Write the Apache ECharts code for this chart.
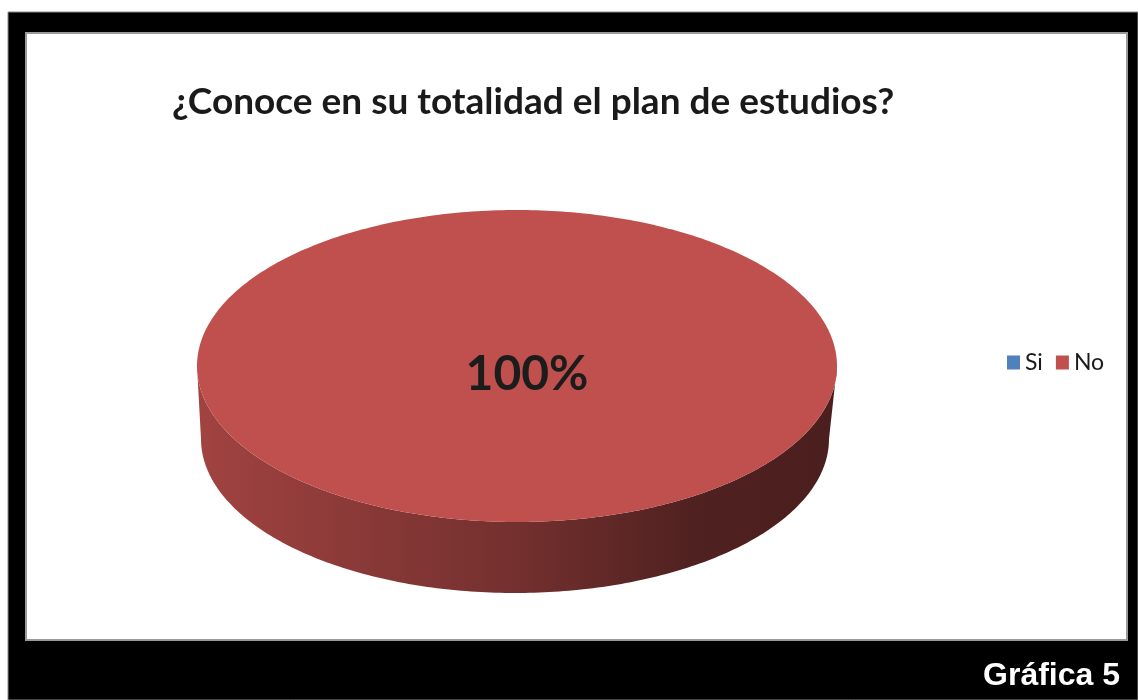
<!DOCTYPE html>
<html>
<head>
<meta charset="utf-8">
<title>¿Conoce en su totalidad el plan de estudios?</title>
<script src="https://cdn.jsdelivr.net/npm/echarts@6/dist/echarts.min.js"></script>
<style>
  html, body { margin: 0; padding: 0; background: #ffffff; }
  #chart { width: 1138px; height: 700px; }
</style>
</head>
<body>
<div id="chart"></div>
<script>
// Survey answers (percent of respondents)
const categories = ['Si', 'No'];
const values = [0, 100];
const sliceColors = ['#4F81BD', '#C0504D'];

const titleText = '¿Conoce en su totalidad el plan de estudios?';
const footerText = 'Gráfica 5';

// Geometry of the 3D pie (top face and bottom rim ellipses)
const TOP = { cx: 517, cy: 366, rx: 320, ry: 156 };
const BOTTOM = { cx: 515, cy: 439, rx: 314, ry: 154 };
const LABEL_OFFSET = [10, 9];

const total = values.reduce((a, b) => a + b, 0);

function ellipsePoint(e, t) {
  return [e.cx + e.rx * Math.cos(t), e.cy + e.ry * Math.sin(t)];
}

function arcPoints(e, t0, t1, steps) {
  const pts = [];
  for (let i = 0; i <= steps; i++) {
    pts.push(ellipsePoint(e, t0 + (t1 - t0) * i / steps));
  }
  return pts;
}

// Darken a hex colour by a factor (0..1)
function shade(hex, f) {
  const n = parseInt(hex.slice(1), 16);
  const r = Math.round(((n >> 16) & 255) * f);
  const g = Math.round(((n >> 8) & 255) * f);
  const b = Math.round((n & 255) * f);
  return 'rgb(' + r + ',' + g + ',' + b + ')';
}

function makeRenderItem(idx) {
  return function (params, api) {
    const v = api.value(0);
    const children = [];
    if (!(v > 0) || total <= 0) return { type: 'group', children: children };
    let before = 0;
    for (let i = 0; i < idx; i++) before += values[i];
    // Slices start at 12 o'clock and run clockwise
    const t0 = -Math.PI / 2 + 2 * Math.PI * before / total;
    const t1 = t0 + 2 * Math.PI * v / total;
    const full = v / total >= 0.9999;
    const base = sliceColors[idx];

    // Front rim: the part of the slice between angles 0 and PI (facing the viewer)
    const ranges = [];
    for (let k = -1; k <= 1; k++) {
      const a = Math.max(t0, k * 2 * Math.PI);
      const b = Math.min(t1, k * 2 * Math.PI + Math.PI);
      if (b > a) ranges.push([a, b]);
    }
    ranges.forEach(function (r) {
      const topArc = arcPoints(TOP, r[0], r[1], 200);
      const botArc = arcPoints(BOTTOM, r[0], r[1], 200).reverse();
      children.push({
        type: 'polygon',
        z2: 1,
        shape: { points: topArc.concat(botArc) },
        style: {
          fill: {
            type: 'linear', x: 0, y: 0, x2: 1, y2: 0,
            colorStops: [
              { offset: 0, color: shade(base, 0.84) },
              { offset: 0.5, color: shade(base, 0.6) },
              { offset: 0.78, color: shade(base, 0.41) },
              { offset: 1, color: shade(base, 0.39) }
            ]
          }
        }
      });
    });

    // Top face
    let facePts;
    if (full) {
      facePts = arcPoints(TOP, t0, t1, 400);
    } else {
      facePts = [[TOP.cx, TOP.cy]].concat(arcPoints(TOP, t0, t1, 300));
    }
    children.push({
      type: 'polygon',
      z2: 10,
      shape: { points: facePts },
      style: { fill: base }
    });

    // Percentage label
    let lx = TOP.cx + LABEL_OFFSET[0], ly = TOP.cy + LABEL_OFFSET[1];
    if (!full) {
      const tm = (t0 + t1) / 2;
      lx = TOP.cx + TOP.rx * 0.6 * Math.cos(tm);
      ly = TOP.cy + TOP.ry * 0.6 * Math.sin(tm);
    }
    children.push({
      type: 'text',
      z2: 20,
      style: {
        x: lx, y: ly,
        text: Math.round(v / total * 100) + '%',
        align: 'center', verticalAlign: 'middle',
        font: 'bold 48px Lato, "Open Sans", sans-serif',
        fill: '#1c1c1c'
      }
    });
    return { type: 'group', children: children };
  };
}

const chart = echarts.init(document.getElementById('chart'), null, { renderer: 'canvas' });

const series = categories.map(function (name, i) {
  return {
    type: 'custom',
    name: name,
    coordinateSystem: 'none',
    itemStyle: { color: sliceColors[i] },
    renderItem: makeRenderItem(i),
    data: [[values[i]]],
    animation: false,
    silent: true
  };
});

chart.setOption({
  backgroundColor: '#ffffff',
  animation: false,
  title: {
    text: titleText,
    left: 167,
    top: 79,
    textStyle: {
      fontFamily: 'Lato, "Open Sans", sans-serif',
      fontWeight: 'bold',
      fontSize: 37,
      color: '#1a1a1a'
    }
  },
  legend: {
    data: categories,
    orient: 'horizontal',
    left: 1002,
    top: 346,
    icon: 'rect',
    itemWidth: 13,
    itemHeight: 14,
    itemGap: 13,
    selectedMode: false,
    textStyle: {
      fontFamily: 'Lato, "Open Sans", sans-serif',
      fontSize: 23,
      color: '#1a1a1a',
      padding: [0, 0, 0, 0]
    }
  },
  graphic: [
    // Black frame with the white chart area inside
    { type: 'rect', z: -10, silent: true, shape: { x: 8, y: 12, width: 1130, height: 688 },
      style: { fill: '#000000', stroke: '#8a8a8a', lineWidth: 1 } },
    { type: 'rect', z: -9, silent: true, shape: { x: 26, y: 33, width: 1101, height: 607 },
      style: { fill: '#ffffff', stroke: '#9a9a9a', lineWidth: 2 } },
    { type: 'text', z: 5, silent: true,
      style: {
        x: 1120, y: 676, text: footerText, align: 'right', verticalAlign: 'middle',
        font: 'bold 32px "Liberation Sans", Arial, sans-serif', fill: '#ffffff'
      } }
  ],
  series: series
});
</script>
</body>
</html>
